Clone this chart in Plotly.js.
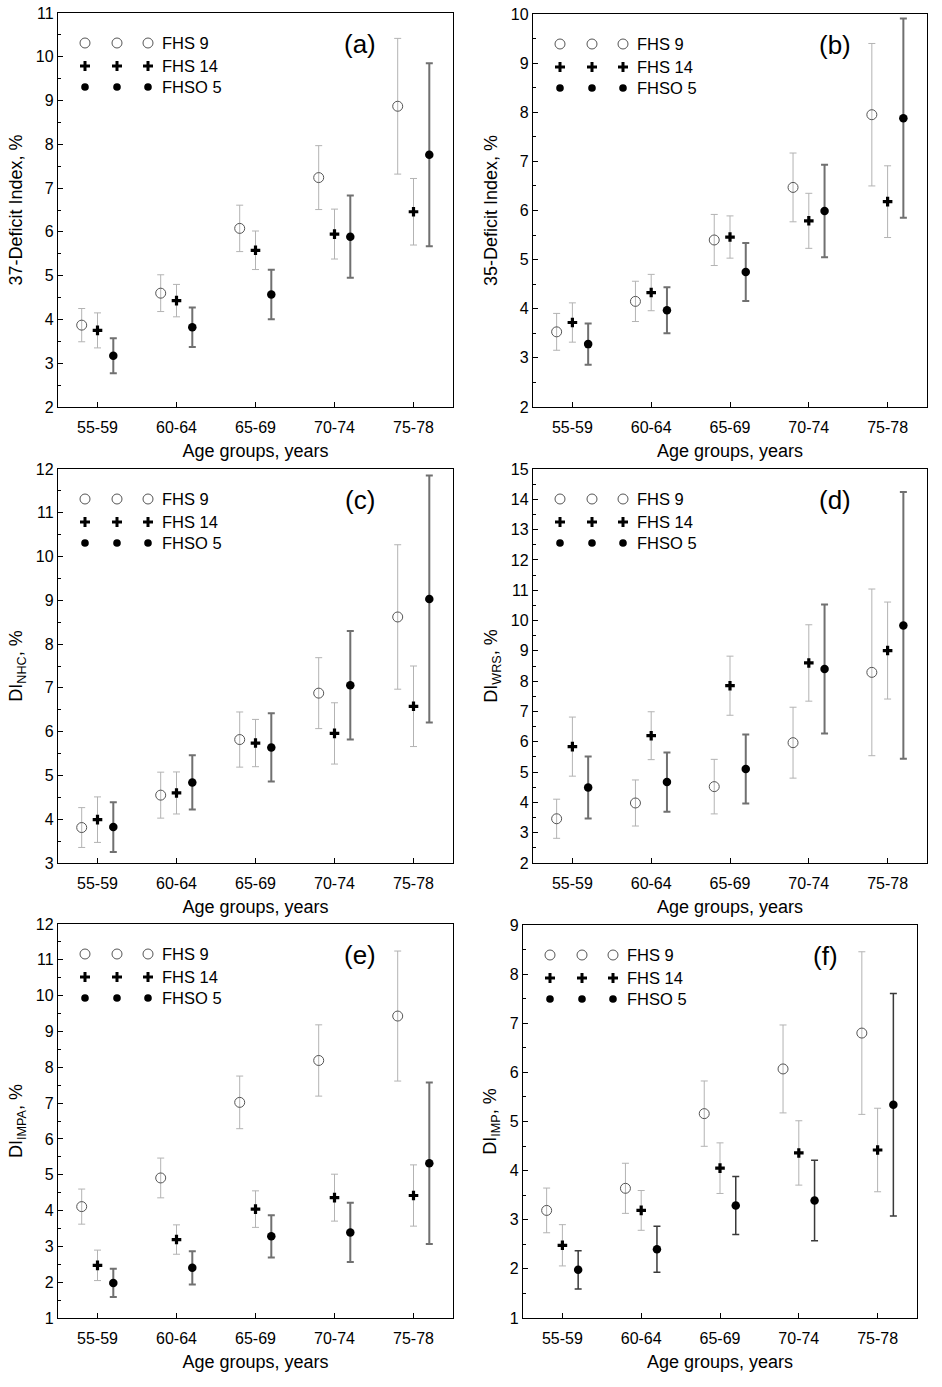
<!DOCTYPE html>
<html><head><meta charset="utf-8">
<script src="https://cdn.plot.ly/plotly-3.0.1.min.js"></script>
<style>html,body{margin:0;padding:0;background:#fff}#chart{width:942px;height:1387px}</style>
</head><body><div id="chart"></div>
<script>
// ---------- DATA ----------
const ageGroups = ['55-59', '60-64', '65-69', '70-74', '75-78'];
const seriesNames = ['FHS 9', 'FHS 14', 'FHSO 5'];

// (a) 37-Deficit Index
const a_fhs9 = [3.87, 4.60, 6.08, 7.24, 8.87];
const a_fhs9_err = [0.38, 0.42, 0.53, 0.73, 1.55];
const a_fhs14 = [3.75, 4.43, 5.58, 5.95, 6.46];
const a_fhs14_err = [0.40, 0.37, 0.44, 0.57, 0.76];
const a_fhso5 = [3.17, 3.82, 4.57, 5.89, 7.76];
const a_fhso5_err = [0.40, 0.45, 0.565, 0.94, 2.09];

// (b) 35-Deficit Index
const b_fhs9 = [3.53, 4.15, 5.40, 6.47, 7.95];
const b_fhs9_err = [0.375, 0.41, 0.52, 0.70, 1.45];
const b_fhs14 = [3.72, 4.33, 5.46, 5.79, 6.18];
const b_fhs14_err = [0.40, 0.37, 0.43, 0.56, 0.73];
const b_fhso5 = [3.28, 3.97, 4.75, 5.99, 7.88];
const b_fhso5_err = [0.42, 0.47, 0.59, 0.94, 2.03];

// (c) DI NHC
const c_fhs9 = [3.81, 4.55, 5.82, 6.88, 8.62];
const c_fhs9_err = [0.455, 0.525, 0.63, 0.81, 1.65];
const c_fhs14 = [3.99, 4.60, 5.74, 5.96, 6.58];
const c_fhs14_err = [0.52, 0.48, 0.54, 0.70, 0.92];
const c_fhso5 = [3.82, 4.84, 5.64, 7.06, 9.03];
const c_fhso5_err = [0.57, 0.62, 0.78, 1.24, 2.82];

// (d) DI WRS
const d_fhs9 = [3.46, 3.98, 4.52, 5.97, 8.29];
const d_fhs9_err = [0.645, 0.76, 0.90, 1.17, 2.75];
const d_fhs14 = [5.84, 6.20, 7.85, 8.60, 9.01];
const d_fhs14_err = [0.975, 0.79, 0.975, 1.26, 1.60];
const d_fhso5 = [4.49, 4.67, 5.10, 8.40, 9.84];
const d_fhso5_err = [1.02, 0.98, 1.14, 2.13, 4.40];

// (e) DI IMPA
const e_fhs9 = [4.11, 4.91, 7.02, 8.19, 9.43];
const e_fhs9_err = [0.49, 0.555, 0.735, 0.995, 1.815];
const e_fhs14 = [2.47, 3.19, 4.04, 4.36, 4.42];
const e_fhs14_err = [0.425, 0.41, 0.51, 0.655, 0.855];
const e_fhso5 = [1.98, 2.40, 3.28, 3.39, 5.32];
const e_fhso5_err = [0.395, 0.465, 0.59, 0.83, 2.255];

// (f) DI IMP
const f_fhs9 = [3.19, 3.64, 5.16, 6.07, 6.80];
const f_fhs9_err = [0.455, 0.51, 0.665, 0.895, 1.655];
const f_fhs14 = [2.48, 3.19, 4.05, 4.36, 4.42];
const f_fhs14_err = [0.42, 0.405, 0.515, 0.655, 0.85];
const f_fhso5 = [1.98, 2.40, 3.29, 3.39, 5.34];
const f_fhso5_err = [0.39, 0.47, 0.59, 0.82, 2.265];

const panelLabels = ['(a)', '(b)', '(c)', '(d)', '(e)', '(f)'];
const yTitles = ['37-Deficit Index, %', '35-Deficit Index, %', 'DI<sub>NHC</sub>, %',
                 'DI<sub>WRS</sub>, %', 'DI<sub>IMPA</sub>, %', 'DI<sub>IMP</sub>, %'];
const xTitle = 'Age groups, years';
const yRanges = [[2, 11], [2, 10], [3, 12], [2, 15], [1, 12], [1, 9]];

const panelValues = [
  [a_fhs9, a_fhs14, a_fhso5], [b_fhs9, b_fhs14, b_fhso5], [c_fhs9, c_fhs14, c_fhso5],
  [d_fhs9, d_fhs14, d_fhso5], [e_fhs9, e_fhs14, e_fhso5], [f_fhs9, f_fhs14, f_fhso5]
];
const panelErrors = [
  [a_fhs9_err, a_fhs14_err, a_fhso5_err], [b_fhs9_err, b_fhs14_err, b_fhso5_err],
  [c_fhs9_err, c_fhs14_err, c_fhso5_err], [d_fhs9_err, d_fhs14_err, d_fhso5_err],
  [e_fhs9_err, e_fhs14_err, e_fhso5_err], [f_fhs9_err, f_fhs14_err, f_fhso5_err]
];

// ---------- LAYOUT / STYLE ----------
const W = 942, H = 1387;
const FONT = '"Liberation Sans", Arial, sans-serif';
// plot boxes in px: [left, top, right, bottom]
const boxes = [[58, 13, 453, 407], [533, 14, 927, 407], [58, 469, 453, 863],
               [533, 469, 927, 863], [58, 924, 453, 1318], [523, 925, 917, 1318]];
const offsets = [-0.2, 0, 0.2];

const markerStyles = [
  {symbol: 'circle', size: 10, color: 'rgba(255,255,255,0)', line: {color: '#555', width: 1}},
  {symbol: 'cross', size: 8, color: '#000', line: {width: 0}},
  {symbol: 'circle', size: 8.5, color: '#000', line: {width: 0}}
];
function errStyle(s, p) {
  if (s < 2) return {color: '#b3b3b3', thickness: 1, width: 3.5};
  if (p === 5) return {color: '#3a3a3a', thickness: 1.5, width: 3.5};
  return {color: '#707070', thickness: 2, width: 3.5};
}

const traces = [];
const layout = {
  width: W, height: H, margin: {l: 0, r: 0, t: 0, b: 0},
  paper_bgcolor: '#fff', plot_bgcolor: '#fff', showlegend: false,
  font: {family: FONT, color: '#000', size: 16},
  annotations: [], shapes: []
};

// legend key drawn as pixel-sized shapes anchored in paper space
function keyShapes(s, ax, ay) {
  const base = {xref: 'paper', yref: 'paper', xsizemode: 'pixel', ysizemode: 'pixel',
                xanchor: ax, yanchor: ay, layer: 'above'};
  if (s === 0) return [Object.assign({}, base, {type: 'circle', x0: -5, x1: 5, y0: -5, y1: 5,
                       line: {color: '#555', width: 1}, fillcolor: 'rgba(0,0,0,0)'})];
  if (s === 2) return [Object.assign({}, base, {type: 'circle', x0: -3.8, x1: 3.8, y0: -3.8, y1: 3.8,
                       line: {width: 0}, fillcolor: '#000'})];
  return [
    Object.assign({}, base, {type: 'rect', x0: -5, x1: 5, y0: -1.5, y1: 1.5, line: {width: 0}, fillcolor: '#000'}),
    Object.assign({}, base, {type: 'rect', x0: -1.5, x1: 1.5, y0: -5, y1: 5, line: {width: 0}, fillcolor: '#000'})
  ];
}

boxes.forEach((b, p) => {
  const n = p === 0 ? '' : String(p + 1);
  for (let s = 0; s < 3; s++) {
    traces.push({
      type: 'scatter', mode: 'markers', name: seriesNames[s],
      xaxis: 'x' + n, yaxis: 'y' + n,
      x: ageGroups.map((g, i) => i + offsets[s]),
      y: panelValues[p][s],
      text: ageGroups,
      error_y: Object.assign({type: 'data', array: panelErrors[p][s], visible: true}, errStyle(s, p)),
      marker: markerStyles[s],
      cliponaxis: false
    });
  }
  const axCommon = {
    showline: true, linecolor: '#000', linewidth: 1.2, mirror: true,
    showgrid: false, zeroline: false, ticks: 'inside', ticklen: 5, tickwidth: 1, tickcolor: '#000',
    tickfont: {family: FONT, size: 16, color: '#000'}, automargin: false, fixedrange: true
  };
  layout['xaxis' + n] = Object.assign({}, axCommon, {
    domain: [b[0] / W, b[2] / W], anchor: 'y' + n,
    range: [-0.5, 4.5], tickmode: 'array', tickvals: [0, 1, 2, 3, 4], ticktext: ageGroups,
    ticklabelstandoff: 6,
    title: {text: xTitle, font: {family: FONT, size: 18, color: '#000'}, standoff: 9}
  });
  layout['yaxis' + n] = Object.assign({}, axCommon, {
    domain: [1 - b[3] / H, 1 - b[1] / H], anchor: 'x' + n,
    range: yRanges[p], dtick: 1, tick0: 0,
    minor: {dtick: 0.5, ticks: 'inside', ticklen: 3, tickcolor: '#000', showgrid: false},
    title: {text: yTitles[p], font: {family: FONT, size: 18, color: '#000'}, standoff: 8}
  });

  // panel label
  layout.annotations.push({
    xref: 'paper', yref: 'paper', x: (b[0] + 302) / W, y: 1 - (b[1] + 31) / H,
    xanchor: 'center', yanchor: 'middle', showarrow: false,
    text: panelLabels[p], font: {family: FONT, size: 26, color: '#000'}
  });
  // legend (three symbols per entry + label)
  const colX = [27, 59, 90], textX = 102, rowY = [30, 53, 74];
  for (let s = 0; s < 3; s++) {
    const ay = 1 - (b[1] + rowY[s]) / H;
    colX.forEach(cx => {
      layout.shapes.push(...keyShapes(s, (b[0] + cx) / W, ay));
    });
    layout.annotations.push({
      xref: 'paper', yref: 'paper', x: (b[0] + textX) / W, y: ay,
      xanchor: 'left', yanchor: 'middle', showarrow: false,
      text: seriesNames[s], font: {family: FONT, size: 16.5, color: '#000'}
    });
  }
});

Plotly.newPlot('chart', traces, layout, {staticPlot: true, displayModeBar: false});
</script>
</body></html>
